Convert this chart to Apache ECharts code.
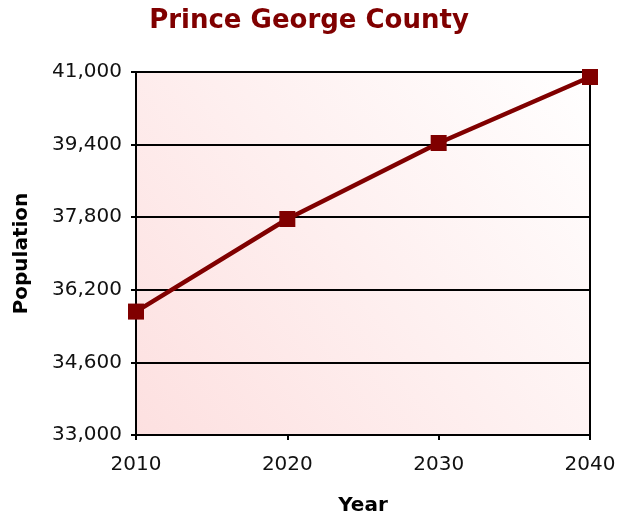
<!DOCTYPE html>
<html><head><meta charset="utf-8">
<script src="https://cdn.jsdelivr.net/npm/echarts@6/dist/echarts.min.js"></script>
<style>html,body{margin:0;padding:0;background:#fff}#c{width:618px;height:517px}</style>
</head><body><div id="c"></div>
<script>
const years = ['2010','2020','2030','2040'];
const population = [35720, 37760, 39435, 40890];
const yMin = 33000, yMax = 41000, yStep = 1600;
const font = 'DejaVu Sans';
const chart = echarts.init(document.getElementById('c'));
chart.setOption({
  animation: false,
  title: { text: 'Prince George County', left: 'center', top: 3,
    textStyle: { color: '#800000', fontFamily: font, fontWeight: 'bold', fontSize: 26 } },
  grid: { left: 136, right: 28, top: 72, bottom: 82, show: true, borderColor: '#000', borderWidth: 2,
    outerBoundsMode: 'none', containLabel: false,
    backgroundColor: new echarts.graphic.LinearGradient(0, 1, 1, 0, [
      { offset: 0, color: '#fde0e0' }, { offset: 1, color: '#ffffff' }]) },
  xAxis: { type: 'category', data: years, boundaryGap: false,
    name: 'Year', nameLocation: 'middle', nameGap: 61,
    nameTextStyle: { fontFamily: font, fontWeight: 'bold', fontSize: 20, color: '#000' },
    axisLine: { lineStyle: { color: '#000', width: 2 } },
    axisTick: { show: true, length: 5, inside: false, lineStyle: { color: '#000', width: 2 } },
    axisLabel: { fontFamily: font, fontSize: 20, color: '#111', margin: 20 },
    splitLine: { show: false } },
  yAxis: { type: 'value', min: yMin, max: yMax, interval: yStep,
    name: 'Population', nameLocation: 'middle', nameGap: 104,
    nameTextStyle: { fontFamily: font, fontWeight: 'bold', fontSize: 20, color: '#000' },
    axisLine: { show: true, lineStyle: { color: '#000', width: 2 } },
    axisTick: { show: true, length: 5, lineStyle: { color: '#000', width: 2 } },
    axisLabel: { fontFamily: font, fontSize: 20, color: '#111', margin: 14,
      formatter: v => v.toLocaleString('en-US') },
    splitLine: { show: true, lineStyle: { color: '#000', width: 2 } } },
  series: [{ type: 'line', data: population, symbol: 'rect', symbolSize: 16,
    lineStyle: { color: '#800000', width: 4.5 }, itemStyle: { color: '#800000' } }]
});
</script></body></html>
